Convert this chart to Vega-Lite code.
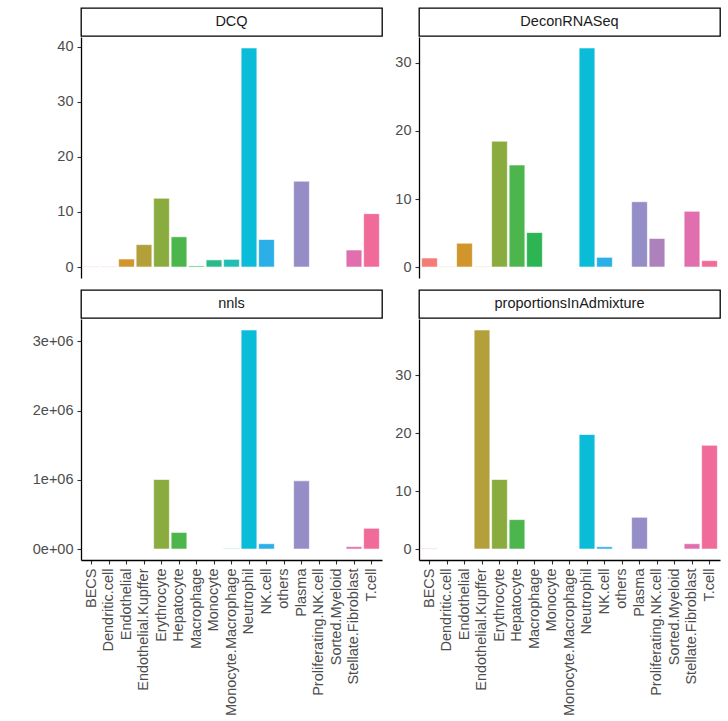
{
  "$schema": "https://vega.github.io/schema/vega-lite/v6.json",
  "padding": {"left": 32, "top": 7, "right": 5, "bottom": 5},
  "background": "white",
  "datasets": {
    "bars": [
      {"method": "DCQ", "cell": "BECS", "value": 0.08},
      {"method": "DCQ", "cell": "Dendritic.cell", "value": 0.08},
      {"method": "DCQ", "cell": "Endothelial", "value": 1.46},
      {"method": "DCQ", "cell": "Endothelial.Kupffer", "value": 4.08},
      {"method": "DCQ", "cell": "Erythrocyte", "value": 12.5},
      {"method": "DCQ", "cell": "Hepatocyte", "value": 5.5},
      {"method": "DCQ", "cell": "Macrophage", "value": 0.2},
      {"method": "DCQ", "cell": "Monocyte", "value": 1.3},
      {"method": "DCQ", "cell": "Monocyte.Macrophage", "value": 1.4},
      {"method": "DCQ", "cell": "Neutrophil", "value": 39.8},
      {"method": "DCQ", "cell": "NK.cell", "value": 5.0},
      {"method": "DCQ", "cell": "Plasma", "value": 15.6},
      {"method": "DCQ", "cell": "Stellate.Fibroblast", "value": 3.1},
      {"method": "DCQ", "cell": "T.cell", "value": 9.7},
      {"method": "DeconRNASeq", "cell": "BECS", "value": 1.33},
      {"method": "DeconRNASeq", "cell": "Dendritic.cell", "value": 0.05},
      {"method": "DeconRNASeq", "cell": "Endothelial", "value": 3.5},
      {"method": "DeconRNASeq", "cell": "Endothelial.Kupffer", "value": 0.05},
      {"method": "DeconRNASeq", "cell": "Erythrocyte", "value": 18.5},
      {"method": "DeconRNASeq", "cell": "Hepatocyte", "value": 15.0},
      {"method": "DeconRNASeq", "cell": "Macrophage", "value": 5.07},
      {"method": "DeconRNASeq", "cell": "Neutrophil", "value": 32.2},
      {"method": "DeconRNASeq", "cell": "NK.cell", "value": 1.43},
      {"method": "DeconRNASeq", "cell": "Plasma", "value": 9.6},
      {"method": "DeconRNASeq", "cell": "Proliferating.NK.cell", "value": 4.2},
      {"method": "DeconRNASeq", "cell": "Stellate.Fibroblast", "value": 8.2},
      {"method": "DeconRNASeq", "cell": "T.cell", "value": 0.94},
      {"method": "nnls", "cell": "Erythrocyte", "value": 1004000},
      {"method": "nnls", "cell": "Hepatocyte", "value": 240000},
      {"method": "nnls", "cell": "Monocyte.Macrophage", "value": 8000},
      {"method": "nnls", "cell": "Neutrophil", "value": 3164000},
      {"method": "nnls", "cell": "NK.cell", "value": 77000},
      {"method": "nnls", "cell": "Plasma", "value": 985000},
      {"method": "nnls", "cell": "Stellate.Fibroblast", "value": 35000},
      {"method": "nnls", "cell": "T.cell", "value": 300000},
      {"method": "proportionsInAdmixture", "cell": "BECS", "value": 0.1},
      {"method": "proportionsInAdmixture", "cell": "Endothelial.Kupffer", "value": 37.8},
      {"method": "proportionsInAdmixture", "cell": "Erythrocyte", "value": 12.0},
      {"method": "proportionsInAdmixture", "cell": "Hepatocyte", "value": 5.08},
      {"method": "proportionsInAdmixture", "cell": "Neutrophil", "value": 19.76},
      {"method": "proportionsInAdmixture", "cell": "NK.cell", "value": 0.4},
      {"method": "proportionsInAdmixture", "cell": "Plasma", "value": 5.48},
      {"method": "proportionsInAdmixture", "cell": "Stellate.Fibroblast", "value": 0.92},
      {"method": "proportionsInAdmixture", "cell": "T.cell", "value": 17.9}
    ]
  },
  "columns": 2,
  "align": "each",
  "spacing": {"row": 0, "column": 11},
  "concat": [
    {
      "width": 301, "height": 28,
      "view": {"stroke": "black", "strokeWidth": 1.3, "fill": "white"},
      "data": {"name": "bars"},
      "transform": [{"filter": "datum.method === 'DCQ'"}, {"aggregate": [], "groupby": ["method"]}],
      "mark": {"type": "text", "font": "Liberation Sans", "fontSize": 14.5, "color": "#1A1A1A", "baseline": "middle", "align": "center"},
      "encoding": {"text": {"field": "method"}}
    },
    {
      "width": 301, "height": 28,
      "view": {"stroke": "black", "strokeWidth": 1.3, "fill": "white"},
      "data": {"name": "bars"},
      "transform": [{"filter": "datum.method === 'DeconRNASeq'"}, {"aggregate": [], "groupby": ["method"]}],
      "mark": {"type": "text", "font": "Liberation Sans", "fontSize": 14.5, "color": "#1A1A1A", "baseline": "middle", "align": "center"},
      "encoding": {"text": {"field": "method"}}
    },
    {
      "width": 301, "height": 241,
      "data": {"name": "bars"},
      "transform": [{"filter": "datum.method === 'DCQ'"}],
      "mark": {"type": "bar", "stroke": "white", "strokeWidth": 0.6},
      "encoding": {
        "x": {"field": "cell", "type": "nominal", "sort": null,
          "scale": {"domain": ["BECS","Dendritic.cell","Endothelial","Endothelial.Kupffer","Erythrocyte","Hepatocyte","Macrophage","Monocyte","Monocyte.Macrophage","Neutrophil","NK.cell","others","Plasma","Proliferating.NK.cell","Sorted.Myeloid","Stellate.Fibroblast","T.cell"], "paddingInner": 0.1, "paddingOuter": 0.15},
          "axis": {"title": null, "labels": false, "domain": false, "ticks": true, "tickSize": 11, "tickOpacity": 0}},
        "y": {"field": "value", "type": "quantitative",
          "scale": {"domain": [-1.99, 41.79], "nice": false, "zero": false},
          "axis": {"title": null, "values": [0, 10, 20, 30, 40]}},
        "y2": {"datum": 0},
        "color": {"field": "cell", "type": "nominal", "legend": null,
          "scale": {"domain": ["BECS","Dendritic.cell","Endothelial","Endothelial.Kupffer","Erythrocyte","Hepatocyte","Macrophage","Monocyte","Monocyte.Macrophage","Neutrophil","NK.cell","others","Plasma","Proliferating.NK.cell","Sorted.Myeloid","Stellate.Fibroblast","T.cell"],
            "range": ["#F47C74","#E3893A","#D0952B","#B3A03A","#8AAC3E","#4CB64C","#2DB553","#2EB98A","#22BDB4","#0BBCD8","#2BAFE6","#6FA3E6","#958DC5","#AD82BC","#CB78B8","#E16FAE","#F06A9A"]}}
      }
    },
    {
      "width": 301, "height": 241,
      "data": {"name": "bars"},
      "transform": [{"filter": "datum.method === 'DeconRNASeq'"}],
      "mark": {"type": "bar", "stroke": "white", "strokeWidth": 0.6},
      "encoding": {
        "x": {"field": "cell", "type": "nominal", "sort": null,
          "scale": {"domain": ["BECS","Dendritic.cell","Endothelial","Endothelial.Kupffer","Erythrocyte","Hepatocyte","Macrophage","Monocyte","Monocyte.Macrophage","Neutrophil","NK.cell","others","Plasma","Proliferating.NK.cell","Sorted.Myeloid","Stellate.Fibroblast","T.cell"], "paddingInner": 0.1, "paddingOuter": 0.15},
          "axis": {"title": null, "labels": false, "domain": false, "ticks": true, "tickSize": 11, "tickOpacity": 0}},
        "y": {"field": "value", "type": "quantitative",
          "scale": {"domain": [-1.61, 33.81], "nice": false, "zero": false},
          "axis": {"title": null, "values": [0, 10, 20, 30]}},
        "y2": {"datum": 0},
        "color": {"field": "cell", "type": "nominal", "legend": null,
          "scale": {"domain": ["BECS","Dendritic.cell","Endothelial","Endothelial.Kupffer","Erythrocyte","Hepatocyte","Macrophage","Monocyte","Monocyte.Macrophage","Neutrophil","NK.cell","others","Plasma","Proliferating.NK.cell","Sorted.Myeloid","Stellate.Fibroblast","T.cell"],
            "range": ["#F47C74","#E3893A","#D0952B","#B3A03A","#8AAC3E","#4CB64C","#2DB553","#2EB98A","#22BDB4","#0BBCD8","#2BAFE6","#6FA3E6","#958DC5","#AD82BC","#CB78B8","#E16FAE","#F06A9A"]}}
      }
    },
    {
      "width": 301, "height": 28,
      "view": {"stroke": "black", "strokeWidth": 1.3, "fill": "white"},
      "data": {"name": "bars"},
      "transform": [{"filter": "datum.method === 'nnls'"}, {"aggregate": [], "groupby": ["method"]}],
      "mark": {"type": "text", "font": "Liberation Sans", "fontSize": 14.5, "color": "#1A1A1A", "baseline": "middle", "align": "center"},
      "encoding": {"text": {"field": "method"}}
    },
    {
      "width": 301, "height": 28,
      "view": {"stroke": "black", "strokeWidth": 1.3, "fill": "white"},
      "data": {"name": "bars"},
      "transform": [{"filter": "datum.method === 'proportionsInAdmixture'"}, {"aggregate": [], "groupby": ["method"]}],
      "mark": {"type": "text", "font": "Liberation Sans", "fontSize": 14.5, "color": "#1A1A1A", "baseline": "middle", "align": "center"},
      "encoding": {"text": {"field": "method"}}
    },
    {
      "width": 301, "height": 241,
      "data": {"name": "bars"},
      "transform": [{"filter": "datum.method === 'nnls'"}],
      "mark": {"type": "bar", "stroke": "white", "strokeWidth": 0.6},
      "encoding": {
        "x": {"field": "cell", "type": "nominal", "sort": null,
          "scale": {"domain": ["BECS","Dendritic.cell","Endothelial","Endothelial.Kupffer","Erythrocyte","Hepatocyte","Macrophage","Monocyte","Monocyte.Macrophage","Neutrophil","NK.cell","others","Plasma","Proliferating.NK.cell","Sorted.Myeloid","Stellate.Fibroblast","T.cell"], "paddingInner": 0.1, "paddingOuter": 0.15},
          "axis": {"title": null, "labelAngle": -90, "labelAlign": "right", "labelBaseline": "middle", "domain": true}},
        "y": {"field": "value", "type": "quantitative",
          "scale": {"domain": [-158200, 3322200], "nice": false, "zero": false},
          "axis": {"title": null, "values": [0, 1000000, 2000000, 3000000], "labelExpr": "datum.value == 0 ? '0e+00' : format(datum.value / 1000000, 'd') + 'e+06'"}},
        "y2": {"datum": 0},
        "color": {"field": "cell", "type": "nominal", "legend": null,
          "scale": {"domain": ["BECS","Dendritic.cell","Endothelial","Endothelial.Kupffer","Erythrocyte","Hepatocyte","Macrophage","Monocyte","Monocyte.Macrophage","Neutrophil","NK.cell","others","Plasma","Proliferating.NK.cell","Sorted.Myeloid","Stellate.Fibroblast","T.cell"],
            "range": ["#F47C74","#E3893A","#D0952B","#B3A03A","#8AAC3E","#4CB64C","#2DB553","#2EB98A","#22BDB4","#0BBCD8","#2BAFE6","#6FA3E6","#958DC5","#AD82BC","#CB78B8","#E16FAE","#F06A9A"]}}
      }
    },
    {
      "width": 301, "height": 241,
      "data": {"name": "bars"},
      "transform": [{"filter": "datum.method === 'proportionsInAdmixture'"}],
      "mark": {"type": "bar", "stroke": "white", "strokeWidth": 0.6},
      "encoding": {
        "x": {"field": "cell", "type": "nominal", "sort": null,
          "scale": {"domain": ["BECS","Dendritic.cell","Endothelial","Endothelial.Kupffer","Erythrocyte","Hepatocyte","Macrophage","Monocyte","Monocyte.Macrophage","Neutrophil","NK.cell","others","Plasma","Proliferating.NK.cell","Sorted.Myeloid","Stellate.Fibroblast","T.cell"], "paddingInner": 0.1, "paddingOuter": 0.15},
          "axis": {"title": null, "labelAngle": -90, "labelAlign": "right", "labelBaseline": "middle", "domain": true}},
        "y": {"field": "value", "type": "quantitative",
          "scale": {"domain": [-1.89, 39.69], "nice": false, "zero": false},
          "axis": {"title": null, "values": [0, 10, 20, 30]}},
        "y2": {"datum": 0},
        "color": {"field": "cell", "type": "nominal", "legend": null,
          "scale": {"domain": ["BECS","Dendritic.cell","Endothelial","Endothelial.Kupffer","Erythrocyte","Hepatocyte","Macrophage","Monocyte","Monocyte.Macrophage","Neutrophil","NK.cell","others","Plasma","Proliferating.NK.cell","Sorted.Myeloid","Stellate.Fibroblast","T.cell"],
            "range": ["#F47C74","#E3893A","#D0952B","#B3A03A","#8AAC3E","#4CB64C","#2DB553","#2EB98A","#22BDB4","#0BBCD8","#2BAFE6","#6FA3E6","#958DC5","#AD82BC","#CB78B8","#E16FAE","#F06A9A"]}}
      }
    }
  ],
  "resolve": {"scale": {"y": "independent", "x": "independent", "color": "shared"}},
  "config": {
    "view": {"stroke": null},
    "font": "Liberation Sans",
    "axis": {
      "grid": false,
      "domainColor": "black",
      "domainWidth": 1.3,
      "tickColor": "#333333",
      "tickWidth": 1.1,
      "tickSize": 4,
      "labelPadding": 4,
      "labelColor": "#4D4D4D",
      "labelFont": "Liberation Sans",
      "labelFontSize": 14.5
    }
  }
}
